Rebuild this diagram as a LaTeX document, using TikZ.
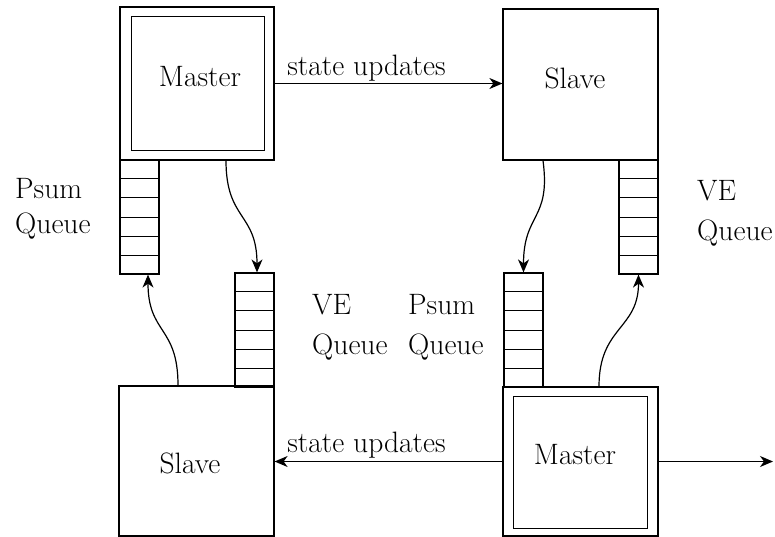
\documentclass[tikz,border=0pt]{standalone}
\usetikzlibrary{arrows.meta,calc}
\tikzset{
  blk/.style={draw, line width=1.2pt, inner sep=0pt, rectangle},
  inblk/.style={draw, line width=1pt, inner sep=0pt, rectangle},
  queue/.style={draw, line width=1.2pt, minimum width=39pt, minimum height=114pt, inner sep=0pt},
  lbl/.style={font=\fontsize{29.5}{35}\selectfont, inner sep=0pt},
  flow/.style={line width=1.2pt, -{Stealth[length=13pt,width=11pt,inset=4pt]}},
  cell/.style={line width=0.8pt}
}
\begin{document}
\begin{tikzpicture}[x=1pt,y=-1pt]
\useasboundingbox (0,0) rectangle (775,537);
% boxes
\node[blk, minimum width=154pt, minimum height=153pt] (M1) at (197,83.5) {};
\node[inblk, minimum width=133pt, minimum height=134pt] (M1in) at (197.5,84) {};
\node[lbl] (M1t) at (200,77) {Master};
\node[blk, minimum width=155pt, minimum height=151pt] (S1) at (580.5,84.5) {};
\node[lbl] (S1t) at (575,78) {Slave};
\node[blk, minimum width=155pt, minimum height=150pt] (S2) at (196.5,461) {};
\node[lbl] (S2t) at (190,463) {Slave};
\node[blk, minimum width=155pt, minimum height=149pt] (M2) at (580.5,461.5) {};
\node[inblk, minimum width=134pt, minimum height=132pt] (M2in) at (580,462) {};
\node[lbl] (M2t) at (575,455) {Master};
% queues
\node[queue] (Q1) at (139.5,217) {};
\node[queue] (Q2) at (254.5,330) {};
\node[queue] (Q3) at (523.5,330) {};
\node[queue] (Q4) at (638.5,217) {};
\foreach \q in {Q1,Q2,Q3,Q4}{
  \foreach \i in {1,...,5}{
    \draw[cell] ($(\q.north west)!\i/6!(\q.south west)$) -- ($(\q.north east)!\i/6!(\q.south east)$);
  }
}
% queue labels
\node[lbl, align=left, anchor=north west, font=\fontsize{29.5}{35}\selectfont] (L1) at (15,178) {Psum\\Queue};
\node[lbl, align=left, anchor=north west, font=\fontsize{29.5}{40}\selectfont] (L2) at (312,294) {VE\\Queue};
\node[lbl, align=left, anchor=north west, font=\fontsize{29.5}{40}\selectfont] (L3) at (408,294) {Psum\\Queue};
\node[lbl, align=left, anchor=north west, font=\fontsize{29.5}{40}\selectfont] (L4) at (697,180) {VE\\Queue};
% state updates
\node[lbl] (U1) at (366.5,68) {state updates};
\node[lbl] (U2) at (366.5,445) {state updates};
\draw[flow] (M1.east) -- (M1.east -| S1.west);
\draw[flow] (M2.west) -- (M2.west -| S2.east);
\coordinate (out) at (773,461.5);
\draw[flow] (M2.east) -- (out);
% curved connectors
\draw[flow] ([xshift=29pt]M1.south) .. controls +(0,60) and +(0,-60) .. ([xshift=2.5pt]Q2.north);
\draw[flow] ([xshift=-18.5pt]S2.north) .. controls +(0,-60) and +(0,60) .. ([xshift=8.5pt]Q1.south);
\draw[flow] ([xshift=-37.5pt]S1.south) .. controls +(8,60) and +(0,-60) .. (Q3.north);
\draw[flow] ([xshift=18.5pt]M2.north) .. controls +(0,-60) and +(0,55) .. (Q4.south);
\end{tikzpicture}
\end{document}
